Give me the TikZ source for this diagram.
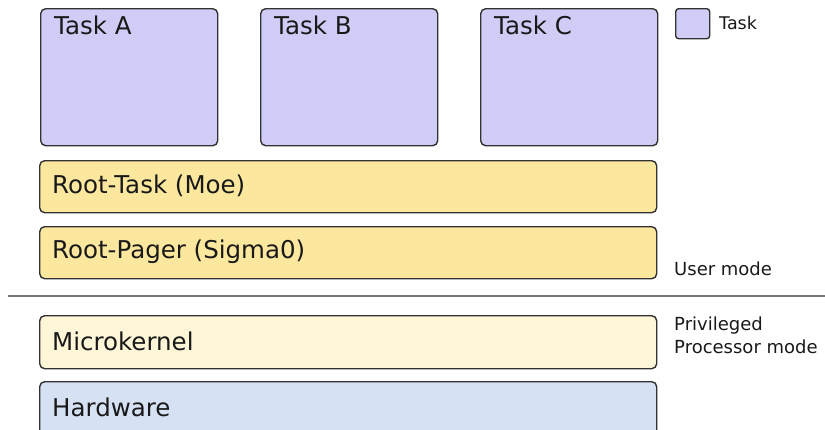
\documentclass[tikz,border=0pt]{standalone}
\usepackage{fontspec}
\setmainfont{DejaVu Sans}
\definecolor{taskfill}{RGB}{207,205,246}
\definecolor{rootfill}{RGB}{252,231,158}
\definecolor{kernfill}{RGB}{255,245,215}
\definecolor{hwfill}{RGB}{214,226,244}
\definecolor{edge}{RGB}{50,50,50}
\definecolor{sepline}{RGB}{120,120,120}
\definecolor{ink}{RGB}{25,25,25}
\begin{document}
\begin{tikzpicture}[x=1pt,y=-1pt,
  box/.style={draw=edge,line width=1.4pt,rounded corners=5pt,anchor=north west,inner sep=0pt},
  big/.style={font=\fontsize{24.5}{29}\selectfont,text=ink,anchor=west,inner sep=0pt},
  small/.style={font=\fontsize{18}{23}\selectfont,text=ink,anchor=west,inner sep=0pt,align=left}]
\useasboundingbox (0,0) rectangle (825,429);
% tasks
\node[box,fill=taskfill,minimum width=177pt,minimum height=137pt] (ta) at (40,8) {};
\node[box,fill=taskfill,minimum width=177pt,minimum height=137pt] (tb) at (260,8) {};
\node[box,fill=taskfill,minimum width=177pt,minimum height=137pt] (tc) at (480,8) {};
\node[big] (tatext) at (54,25) {Task A};
\node[big] (tbtext) at (274,25) {Task B};
\node[big] (tctext) at (494,25) {Task C};
% layers
\node[box,fill=rootfill,minimum width=617pt,minimum height=52pt] (rt) at (39,160) {};
\node[big] (rttext) at (52,186) {Root-Task (Moe)};
\node[box,fill=rootfill,minimum width=617pt,minimum height=52pt] (rp) at (39,226) {};
\node[big] (rptext) at (52,252) {Root-Pager (Sigma0)};
\node[box,fill=kernfill,minimum width=617pt,minimum height=53pt] (mk) at (39,315) {};
\node[big] (mktext) at (52,341) {Microkernel};
\node[box,fill=hwfill,minimum width=617pt,minimum height=60pt] (hw) at (39,381) {};
\node[big] (hwtext) at (52,407) {Hardware};
% separator
\coordinate (sepl) at (8,296);
\coordinate (sepr) at (825,296);
\draw[sepline,line width=1.2pt] (sepl) -- (sepr);
% legend
\node[box,fill=taskfill,minimum width=34pt,minimum height=30pt,rounded corners=3pt] (leg) at (675,8) {};
\node[small,font=\fontsize{17.5}{23}\selectfont] (legtext) at (719,23) {Task};
\node[small] (user) at (674,269) {User mode};
\node[small] (priv) at (674,335) {Privileged\\Processor mode};
\end{tikzpicture}
\end{document}
